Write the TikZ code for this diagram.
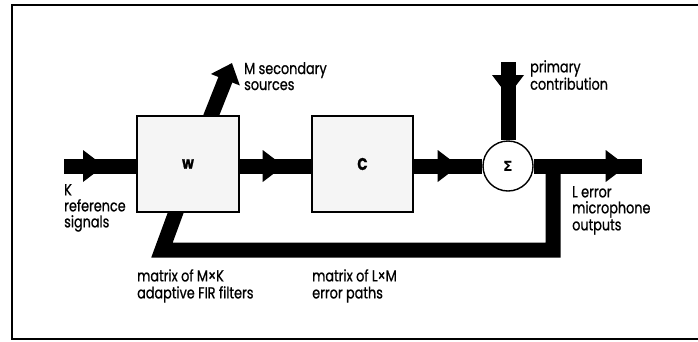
\documentclass[tikz,border=0pt]{standalone}
\usepackage{fontspec}
\setmainfont[FakeStretch=0.8,FakeBold=0.8]{Poppins}
\newfontfamily\sigfont{DejaVu Sans}
\usetikzlibrary{decorations.markings,arrows.meta}
\begin{document}
\begin{tikzpicture}[x=1pt,y=-1pt,
  band/.style={line width=15pt, line join=miter},
  blockbox/.style={draw, line width=1.4pt, fill=black!4, minimum width=102pt, minimum height=96pt, inner sep=0pt, font=\bfseries\fontsize{17}{18}\selectfont},
  lbl/.style={anchor=north west, align=left, inner sep=0pt, font=\fontsize{16}{16}\selectfont},
  midhead/.style={postaction={decorate}, decoration={markings, mark=at position #1 with {\fill (0,-16) -- (0,16) -- (21,0) -- cycle;}}}
]
\useasboundingbox (0,0) rectangle (698,341);
% frame
\draw[line width=1.5pt] (698,5) -- (12,5) -- (12,339) -- (698,339);

% coordinates
\coordinate (kin) at (64,166);
\coordinate (kout) at (642,166);
\coordinate (pin) at (508,62);
\coordinate (tap) at (553,166);
\coordinate (fbr) at (553,250);
\coordinate (fbl) at (162,250);
\coordinate (fbin) at (180,201);
\coordinate (msrc) at (207,126);
\coordinate (mtip) at (232,63);

% bands drawn first
\draw[band] (tap) -- (fbr) -- (fbl) -- (fbin);
\draw[band, -{Triangle[length=18pt,width=30pt]}] (msrc) -- (mtip);

% blocks
\node[blockbox] (W) at (188,164) {w};
\node[blockbox, minimum width=101pt] (C) at (362.5,164) {C};
\node[circle, draw, line width=1.4pt, fill=white, minimum size=50pt, inner sep=0pt] (S) at (508,166) {\sigfont\bfseries\fontsize{14}{15}\selectfont Σ};

% signal bands with mid arrowheads
\draw[band, midhead=19pt] (kin) -- (kin -| W.west);
\draw[band, midhead=23pt] (kin -| W.east) -- (kin -| C.west);
\draw[band, midhead=24pt] (kin -| C.east) -- (S.west);
\draw[band, midhead=72pt] (S.east) -- (kout);
\draw[band, midhead=13pt] (pin) -- (S.north);

% labels
\node[lbl] (msec) at (244,62) {M secondary\\sources};
\node[lbl] (prim) at (530,60) {primary\\contribution};
\node[lbl] (kref) at (64,184) {K\\reference\\signals};
\node[lbl] (lerr) at (572,186) {L error\\microphone\\[1pt]outputs};
\node[lbl] (mk) at (137,269) {matrix of M×K\\[1pt]adaptive FIR filters};
\node[lbl] (lm) at (312,269) {matrix of L×M\\[1pt]error paths};
\end{tikzpicture}
\end{document}
